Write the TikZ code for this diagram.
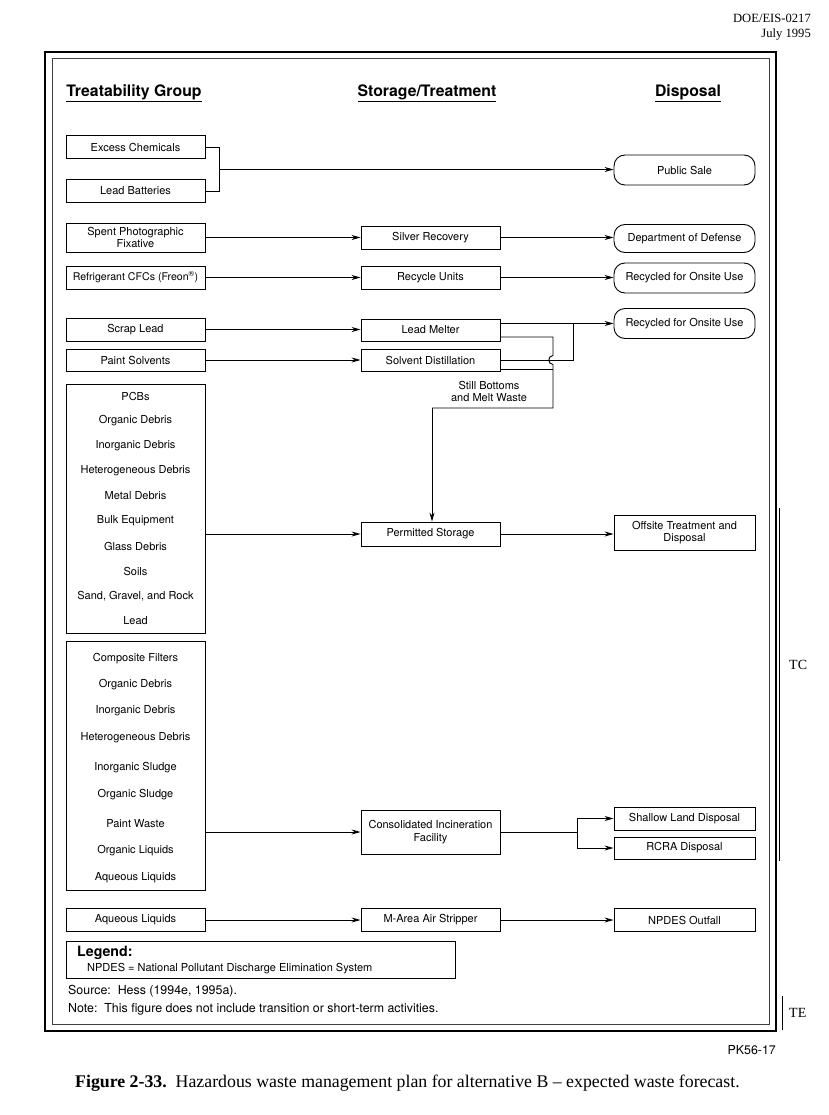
\documentclass[tikz,border=0pt]{standalone}
\usepackage{fontspec}
\setmainfont{Liberation Serif}
\setsansfont{TeX Gyre Heros}
\usetikzlibrary{arrows.meta}
\tikzset{
  txt/.style={font=\sffamily\fontsize{11}{12}\selectfont},
  box/.style={draw, line width=0.9pt, minimum width=139pt, inner sep=1pt, align=center, txt},
  rbox/.style={box, rounded corners=11pt, minimum width=141pt},
  dbox/.style={box, minimum width=141pt},
  conn/.style={line width=0.9pt},
  arr/.style={conn, -{Stealth[length=9pt,width=5pt]}},
  head/.style={font=\sffamily\bfseries\fontsize{15.8}{18}\selectfont},
  serif/.style={font=\fontsize{12.6}{14}\selectfont},
  note/.style={font=\sffamily\fontsize{12.4}{14}\selectfont},
}
\begin{document}
\begin{tikzpicture}[x=1pt,y=-1pt]
\useasboundingbox (0,0) rectangle (828,1115);

% page header
\node[anchor=east, serif, inner sep=0pt] (doc) at (811,18) {DOE/EIS-0217};
\node[anchor=east, serif, inner sep=0pt] (date) at (811,34) {July 1995};

% frame
\draw[line width=2.2pt] (45,52) rectangle (776,1031);
\draw[line width=0.9pt, black!75] (52,58) rectangle (769,1024);

% column heads
\node[head] (h1) at (134,93) {\underline{Treatability Group}};
\node[head] (h2) at (427,93) {\underline{Storage/Treatment}};
\node[head] (h3) at (688,93) {\underline{Disposal}};

% left column
\node[box, minimum height=23pt] (ec) at (135.5,147) {Excess Chemicals};
\node[box, minimum height=23pt] (lb) at (135.5,191) {Lead Batteries};
\node[box, minimum height=29pt] (spf) at (135.5,237.5) {Spent Photographic\\Fixative};
\node[box, minimum height=23pt, font=\sffamily\fontsize{10.6}{12}\selectfont] (cfc) at (135.5,277.5) {Refrigerant CFCs (Freon\textsuperscript{®})};
\node[box, minimum height=23pt] (sl) at (135.5,329.5) {Scrap Lead};
\node[box, minimum height=22pt] (ps) at (135.5,360) {Paint Solvents};
\node[box, minimum height=249pt] (pcb) at (135.5,508.5) {};
\node[box, minimum height=249pt] (comp) at (135.5,765.5) {};
\node[box, minimum height=23pt] (aq) at (135.5,920) {Aqueous Liquids};

% items in first group box
\node[txt] (p1) at (135.5,396) {PCBs};
\node[txt] (p2) at (135.5,421) {Organic Debris};
\node[txt] (p3) at (135.5,446) {Inorganic Debris};
\node[txt] (p4) at (135.5,471) {Heterogeneous Debris};
\node[txt] (p5) at (135.5,496) {Metal Debris};
\node[txt] (p6) at (135.5,521) {Bulk Equipment};
\node[txt] (p7) at (135.5,546) {Glass Debris};
\node[txt] (p8) at (135.5,571) {Soils};
\node[txt] (p9) at (135.5,596) {Sand, Gravel, and Rock};
\node[txt] (p10) at (135.5,621) {Lead};

% items in second group box
\node[txt] (c1) at (135.5,659) {Composite Filters};
\node[txt] (c2) at (135.5,685) {Organic Debris};
\node[txt] (c3) at (135.5,711) {Inorganic Debris};
\node[txt] (c4) at (135.5,738) {Heterogeneous Debris};
\node[txt] (c5) at (135.5,768) {Inorganic Sludge};
\node[txt] (c6) at (135.5,795) {Organic Sludge};
\node[txt] (c7) at (135.5,824) {Paint Waste};
\node[txt] (c8) at (135.5,851) {Organic Liquids};
\node[txt] (c9) at (135.5,878) {Aqueous Liquids};

% middle column
\node[box, minimum height=23pt] (sr) at (430.5,237.5) {Silver Recovery};
\node[box, minimum height=23pt] (ru) at (430.5,277.5) {Recycle Units};
\node[box, minimum height=22pt] (lm) at (430.5,330) {Lead Melter};
\node[box, minimum height=22pt] (sd) at (430.5,360) {Solvent Distillation};
\node[box, minimum height=24pt] (pst) at (430.5,534) {Permitted Storage};
\node[box, minimum height=44pt, font=\sffamily\fontsize{11}{13}\selectfont] (cif) at (430.5,832) {Consolidated Incineration\\Facility};
\node[box, minimum height=23pt] (mas) at (430.5,920) {M-Area Air Stripper};

% right column
\node[rbox, minimum height=30pt] (pub) at (684.5,170) {Public Sale};
\node[rbox, minimum height=28pt] (dod) at (684.5,238.5) {Department of Defense};
\node[rbox, minimum height=30pt] (rec1) at (684.5,278) {Recycled for Onsite Use};
\node[rbox, minimum height=30pt] (rec2) at (684.5,323.5) {Recycled for Onsite Use};
\node[dbox, minimum height=35pt] (off) at (684.5,533) {Offsite Treatment and\\Disposal};
\node[dbox, minimum height=23pt] (sld) at (684.5,818.5) {Shallow Land Disposal};
\node[dbox, minimum height=22pt] (rcra) at (684.5,848) {RCRA Disposal};
\node[dbox, minimum height=23pt] (npd) at (684.5,920) {NPDES Outfall};

% connectors: excess chemicals / lead batteries
\coordinate (j1) at (219,169.5);
\draw[conn] (ec.east) -- (ec.east -| j1) -- (lb.east -| j1) -- (lb.east);
\draw[arr] (j1) -- (j1 -| pub.west);

\draw[arr] (spf.east) -- (sr.west);
\draw[arr] (sr.east) -- (sr.east -| dod.west);
\draw[arr] (cfc.east) -- (ru.west);
\draw[arr] (ru.east) -- (ru.east -| rec1.west);
\draw[arr] (sl.east) -- (sl.east -| lm.west);
\draw[arr] (ps.east) -- (sd.west);

% lead melter / solvent distillation to recycling
\coordinate (r1) at (573,323.5);
\draw[arr] (lm.east |- r1) -- (rec2.west);
\draw[conn] (r1) -- (573,360) -- (sd.east);

% still bottoms and melt waste
\coordinate (w1) at (553,337);
\coordinate (w2) at (553,408);
\coordinate (w3) at (432,408);
\draw[conn] (lm.east |- w1) -- (w1) -- (553,355.5)
  .. controls (547.5,355.5) and (547.5,364.5) .. (553,364.5) -- (w2) -- (w3);
\draw[conn] (sd.east |- 0,369) -- (553,369);
\draw[arr] (w3) -- (w3 |- pst.north);
\node[txt, align=center, inner sep=0pt] (sbl) at (489,391.5) {Still Bottoms\\and Melt Waste};

\draw[arr] (pcb.east |- pst.west) -- (pst.west);
\draw[arr] (pst.east) -- (pst.east -| off.west);

% incineration
\draw[arr] (comp.east |- cif.west) -- (cif.west);
\coordinate (b1) at (577,832);
\draw[conn] (cif.east) -- (b1);
\draw[conn] (b1 |- sld.west) -- (b1 |- rcra.west);
\draw[arr] (b1 |- sld.west) -- (sld.west);
\draw[arr] (b1 |- rcra.west) -- (rcra.west);

\draw[arr] (aq.east) -- (mas.west);
\draw[arr] (mas.east) -- (npd.west);

% legend and notes
\node[draw, line width=0.9pt, minimum width=389pt, minimum height=37pt] (leg) at (260.5,959.5) {};
\node[anchor=west, inner sep=0pt, font=\sffamily\bfseries\fontsize{14.2}{16}\selectfont] (legt) at (77,953) {Legend:};
\node[anchor=west, inner sep=0pt, font=\sffamily\fontsize{11}{12}\selectfont] (legn) at (87,969) {NPDES = National Pollutant Discharge Elimination System};
\node[anchor=west, inner sep=0pt, note] (src) at (68,991) {Source:\ \ Hess (1994e, 1995a).};
\node[anchor=west, inner sep=0pt, note] (note) at (68,1009) {Note:\ \ This figure does not include transition or short-term activities.};

% change bars
\draw[line width=0.9pt] (779,508) coordinate (tca) -- (779,861) coordinate (tcb);
\node[anchor=west, font=\fontsize{14}{16}\selectfont, inner sep=0pt] (tc) at (789,665) {TC};
\draw[line width=0.9pt] (782,996) coordinate (tea) -- (782,1030) coordinate (teb);
\node[anchor=west, font=\fontsize{14}{16}\selectfont, inner sep=0pt] (te) at (789,1013) {TE};

\node[anchor=east, inner sep=0pt, note] (pk) at (776,1050) {PK56-17};

% caption
\node[anchor=west, inner sep=0pt, font=\fontsize{17.8}{20}\selectfont] (cap) at (75,1083) {\textbf{Figure 2-33.}\ \ Hazardous waste management plan for alternative B -- expected waste forecast.};
\end{tikzpicture}
\end{document}
